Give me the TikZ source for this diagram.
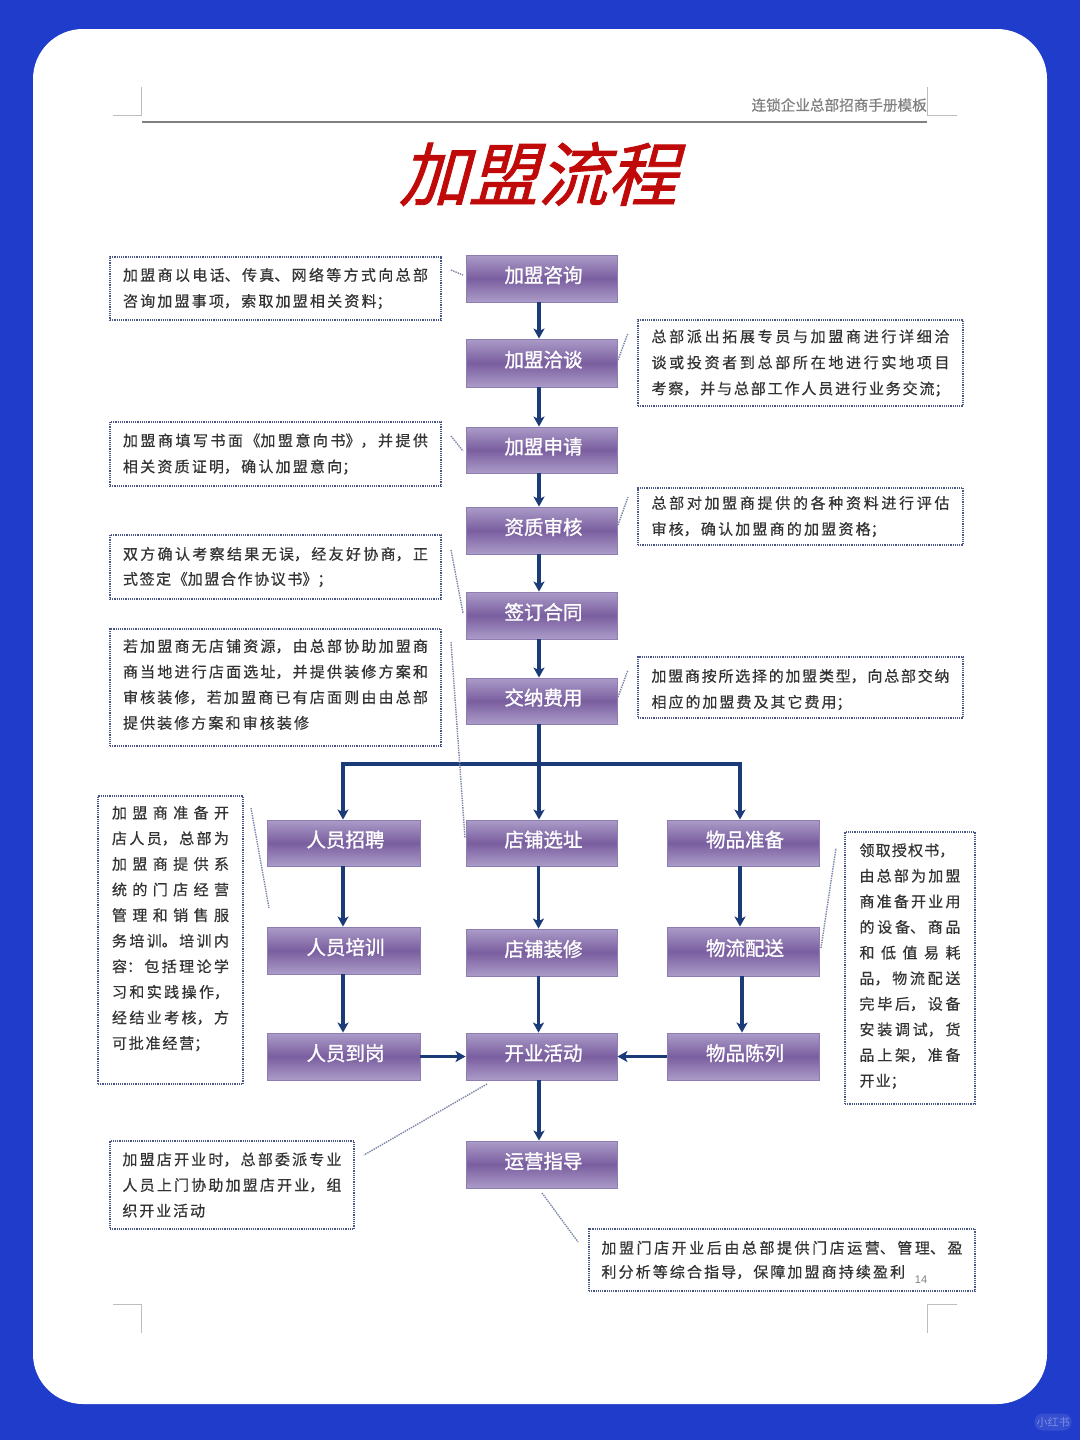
\documentclass[tikz,border=0pt]{standalone}
\usepackage{fontspec}
\usetikzlibrary{arrows.meta}
\setmainfont{Noto Sans CJK SC}
\newfontfamily\titlefont[FakeSlant=0.27,FakeBold=1.2]{Noto Sans CJK SC}
\newfontfamily\boldcjk[FakeBold=1.2]{Noto Sans CJK SC}
\newfontfamily\notefont[FakeBold=0.5]{Noto Sans CJK SC}
\newfontfamily\latinfont{Liberation Sans}
\XeTeXlinebreaklocale "zh"
\definecolor{bluebg}{HTML}{1F3CCB}
\definecolor{flowtop}{HTML}{AB9CC8}
\definecolor{flowmid}{HTML}{7A5E9F}
\definecolor{flowedge}{HTML}{8D7DB2}
\definecolor{navy}{HTML}{1B3A78}
\definecolor{dotline}{HTML}{4A5688}
\definecolor{leader}{HTML}{7C86A8}
\definecolor{notetext}{HTML}{333333}
\definecolor{cropgrey}{HTML}{BDBDBD}
\definecolor{titlered}{HTML}{C00A0A}
% note text helpers: a justified line and a natural-width line
\newcommand{\Jl}[1]{{\parfillskip=0pt\relax\leavevmode #1\par}}
\newcommand{\Ll}[1]{{\parfillskip=0pt plus 1fil\relax\leavevmode #1\par}}
\newcommand{\noteblock}[5]{\vbox{\hsize=#1pt \parindent=0pt \tolerance=9999 \hbadness=10000 \baselineskip=#2pt \XeTeXlinebreakskip=#3pt plus 6pt minus 1pt\relax #4\kern #5pt}}
\tikzset{
  x=1pt,y=-1pt,
  flow/.style={draw=flowedge,line width=0.9pt,top color=flowtop,bottom color=flowtop,middle color=flowmid,
    text=white,font=\fontsize{19.5}{22}\boldcjk,minimum width=151pt,inner sep=0pt,
    text height=14pt,text depth=6pt,execute at begin node={\hskip 4pt}},
  notebox/.style={draw=dotline,densely dotted,line width=1.2pt,fill=white,inner sep=0pt,
    text=notetext,font=\fontsize{15}{20}\notefont},
  arrowline/.style={draw=navy,line width=3.2pt,-{Stealth[length=10pt,width=11pt,inset=2.5pt]}},
  leaderline/.style={draw=leader,densely dotted,line width=1.4pt},
  crop/.style={draw=cropgrey,line width=1pt}
}
\begin{document}
\begin{tikzpicture}
\useasboundingbox (0,0) rectangle (1080,1440);
\fill[bluebg] (0,0) rectangle (1080,1440);
\fill[white,rounded corners=50pt] (33,29) rectangle (1047,1404);
% watermark
\node[fill=white,fill opacity=0.1,text opacity=0.35,text=white,rounded corners=8pt,inner sep=2pt,minimum width=36pt,minimum height=17pt,font=\fontsize{11}{12}\selectfont] (wm) at (1053,1422) {小红书};
% page furniture
\draw[crop] (113,115) -- (141,115) -- (141,87);
\draw[crop] (957,115) -- (927,115) -- (927,87);
\draw[crop] (113,1304) -- (141,1304) -- (141,1333);
\draw[crop] (957,1304) -- (927,1304) -- (927,1333);
\draw[draw=gray,line width=1.4pt] (142,122) -- (927,122);
\node[anchor=east,inner sep=0pt,text=gray,font=\fontsize{14.6}{16}\notefont] (hdr) at (927,105) {连锁企业总部招商手册模板};
\node[text=titlered,inner sep=0pt,font=\fontsize{69.5}{80}\titlefont] (title) at (538,174) {加盟流程};
% flow boxes
\node[flow,minimum height=47pt] (a1) at (541.5,278.5) {加盟咨询};
\node[flow,minimum height=48pt] (a2) at (541.5,363) {加盟洽谈};
\node[flow,minimum height=46pt] (a3) at (541.5,450) {加盟申请};
\node[flow,minimum height=47pt] (a4) at (541.5,530.5) {资质审核};
\node[flow,minimum height=47pt] (a5) at (541.5,615.5) {签订合同};
\node[flow,minimum height=46pt] (a6) at (541.5,701) {交纳费用};
\node[flow,minimum width=153pt,minimum height=46pt] (l1) at (343.5,843) {人员招聘};
\node[flow,minimum height=46pt] (c1) at (541.5,843) {店铺选址};
\node[flow,minimum width=152pt,minimum height=46pt] (r1) at (743,843) {物品准备};
\node[flow,minimum width=153pt,minimum height=47pt] (l2) at (343.5,950.5) {人员培训};
\node[flow,minimum height=47pt] (c2) at (541.5,952.5) {店铺装修};
\node[flow,minimum width=152pt,minimum height=49pt] (r2) at (743,951.5) {物流配送};
\node[flow,minimum width=153pt,minimum height=47pt] (l3) at (343.5,1056.5) {人员到岗};
\node[flow,minimum height=47pt] (c3) at (541.5,1056.5) {开业活动};
\node[flow,minimum width=152pt,minimum height=47pt] (r3) at (743,1056.5) {物品陈列};
\node[flow,minimum height=47pt] (c4) at (541.5,1164.5) {运营指导};
% connectors
\draw[arrowline] ([xshift=-2.5pt]a1.south) -- ([xshift=-2.5pt]a2.north);
\draw[arrowline] ([xshift=-2.5pt]a2.south) -- ([xshift=-2.5pt]a3.north);
\draw[arrowline] ([xshift=-2.5pt]a3.south) -- ([xshift=-2.5pt]a4.north);
\draw[arrowline] ([xshift=-2.5pt]a4.south) -- ([xshift=-2.5pt]a5.north);
\draw[arrowline] ([xshift=-2.5pt]a5.south) -- ([xshift=-2.5pt]a6.north);
\draw[arrowline] ([xshift=-2.5pt]a6.south) -- ([xshift=-2.5pt]c1.north);
\coordinate (branch) at (539,764);
\draw[arrowline] (branch) -| ([xshift=-0.5pt]l1.north);
\draw[arrowline] (branch) -| ([xshift=-3pt]r1.north);
\draw[arrowline] ([xshift=-0.5pt]l1.south) -- ([xshift=-0.5pt]l2.north);
\draw[arrowline] ([xshift=-0.5pt]l2.south) -- ([xshift=-0.5pt]l3.north);
\draw[arrowline] ([xshift=-3pt]c1.south) -- ([xshift=-3pt]c2.north);
\draw[arrowline] ([xshift=-3pt]c2.south) -- ([xshift=-3pt]c3.north);
\draw[arrowline] ([xshift=-3pt]r1.south) -- ([xshift=-3pt]r2.north);
\draw[arrowline] ([xshift=-1pt]r2.south) -- ([xshift=-1pt]r3.north);
\draw[arrowline] (l3.east) -- (c3.west);
\draw[arrowline] (r3.west) -- (c3.east);
\draw[arrowline] ([xshift=-2.5pt]c3.south) -- ([xshift=-2.5pt]c4.north);
% notes
\node[notebox,minimum width=331pt,minimum height=63pt] (n1) at (275.5,288.5) {\noteblock{305}{26}{2.2}{\Jl{加盟商以电话、传真、网络等方式向总部}\Ll{咨询加盟事项，索取加盟相关资料；}}{0}};
\node[notebox,minimum width=325pt,minimum height=86pt] (n2) at (800.5,363) {\noteblock{298}{26}{1.4}{\Jl{总部派出拓展专员与加盟商进行详细洽}\Jl{谈或投资者到总部所在地进行实地项目}\Jl{考察，并与总部工作人员进行业务交流；}}{0}};
\node[notebox,minimum width=331pt,minimum height=64pt] (n3) at (275.5,454) {\noteblock{305}{26}{2.2}{\Jl{加盟商填写书面《加盟意向书》，并提供}\Ll{相关资质证明，确认加盟意向；}}{0}};
\node[notebox,minimum width=325pt,minimum height=57pt] (n4) at (800.5,516.5) {\noteblock{298}{26}{2.2}{\Jl{总部对加盟商提供的各种资料进行评估}\Ll{审核，确认加盟商的加盟资格；}}{0}};
\node[notebox,minimum width=331pt,minimum height=64pt] (n5) at (275.5,567) {\noteblock{305}{25}{1.6}{\Jl{双方确认考察结果无误，经友好协商，正}\Ll{式签定《加盟合作协议书》；}}{0}};
\node[notebox,minimum width=331pt,minimum height=117pt] (n6) at (275.5,687.5) {\noteblock{305}{25.6}{2.1}{\Jl{若加盟商无店铺资源，由总部协助加盟商}\Jl{商当地进行店面选址，并提供装修方案和}\Jl{审核装修，若加盟商已有店面则由由总部}\Ll{提供装修方案和审核装修}}{6}};
\node[notebox,minimum width=325pt,minimum height=61pt] (n7) at (800.5,687.5) {\noteblock{298}{26}{2.0}{\Jl{加盟商按所选择的加盟类型，向总部交纳}\Ll{相应的加盟费及其它费用；}}{-4}};
\node[notebox,minimum width=145pt,minimum height=288pt] (n8) at (170.5,940) {\noteblock{117}{25.6}{1.8}{\Jl{加盟商准备开}\Jl{店人员，总部为}\Jl{加盟商提供系}\Jl{统的门店经营}\Jl{管理和销售服}\Jl{务培训。培训内}\Jl{容：包括理论学}\Jl{习和实践操作，}\Jl{经结业考核，方}\Ll{可批准经营；}}{23}};
\node[notebox,minimum width=130pt,minimum height=272pt] (n9) at (910,968) {\noteblock{101}{25.6}{1.2}{\Ll{领取授权书，}\Jl{由总部为加盟}\Jl{商准备开业用}\Jl{的设备、商品}\Jl{和低值易耗}\Jl{品，物流配送}\Jl{完毕后，设备}\Jl{安装调试，货}\Jl{品上架，准备}\Ll{开业；}}{4}};
\node[notebox,minimum width=244pt,minimum height=88pt] (n10) at (232,1185) {\noteblock{219}{25.6}{1.9}{\Jl{加盟店开业时，总部委派专业}\Jl{人员上门协助加盟店开业，组}\Ll{织开业活动}}{0}};
\node[notebox,minimum width=386pt,minimum height=62pt] (n11) at (782,1260) {\noteblock{361}{24}{2.1}{\Jl{加盟门店开业后由总部提供门店运营、管理、盈}\Ll{利分析等综合指导，保障加盟商持续盈利}}{0}};
\node[anchor=center,inner sep=0pt,text=gray,font=\fontsize{11}{12}\latinfont] (pageno) at (921,1280) {14};
% callout leaders
\coordinate (k1a) at (451,270); \coordinate (k1b) at (463,275);
\coordinate (k2a) at (618,360); \coordinate (k2b) at (628,333);
\coordinate (k3a) at (451,436); \coordinate (k3b) at (463,451);
\coordinate (k4a) at (618,525); \coordinate (k4b) at (628,497);
\coordinate (k5a) at (451,550); \coordinate (k5b) at (463,613);
\coordinate (k6a) at (618,697); \coordinate (k6b) at (628,670);
\coordinate (k7a) at (451,642); \coordinate (k7b) at (465,838);
\coordinate (k8a) at (251,808); \coordinate (k8b) at (269,908);
\coordinate (k9a) at (821,948); \coordinate (k9b) at (836,848);
\coordinate (k10a) at (487,1084); \coordinate (k10b) at (364,1155);
\coordinate (k11a) at (542,1193); \coordinate (k11b) at (578,1242);
\foreach \k in {1,...,11} {\draw[leaderline] (k\k a) -- (k\k b);}
\end{tikzpicture}
\end{document}
